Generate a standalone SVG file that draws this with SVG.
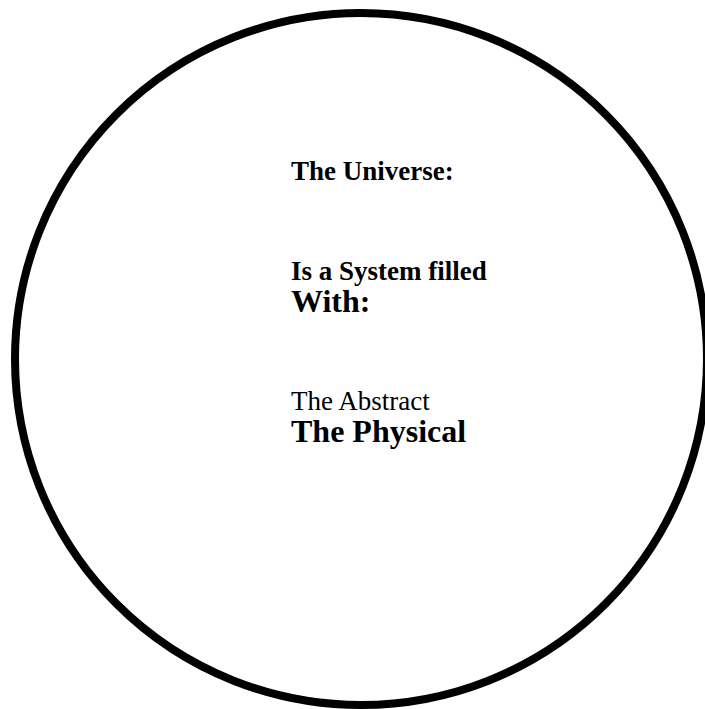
<svg xmlns="http://www.w3.org/2000/svg" width="705" height="709" viewBox="0 0 705 709">
<style>
.t{font-family:"Liberation Serif","Times New Roman",serif;fill:#000}
.b{font-weight:bold}
</style>
<rect width="705" height="709" fill="#fff"/>
<g id="universe">
<circle cx="361" cy="359" r="346" fill="none" stroke="#000" stroke-width="8"/>
<text class="t b" x="291" y="180" font-size="27">The Universe:</text>
<text class="t b" x="291" y="280" font-size="27">Is a System filled</text>
<text class="t b" x="291" y="312" font-size="32">With:</text>
<text class="t" x="291" y="410" font-size="27">The Abstract</text>
<text class="t b" x="291" y="442" font-size="32">The Physical</text>
</g>
</svg>
